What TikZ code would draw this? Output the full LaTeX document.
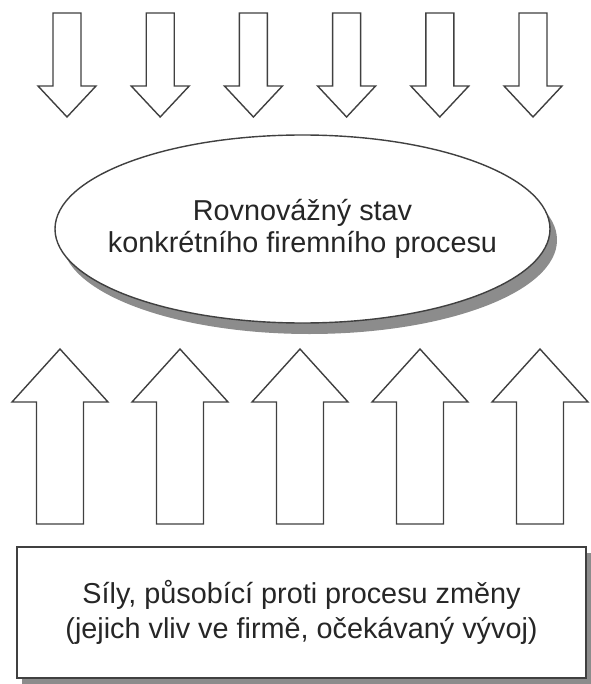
\documentclass[tikz,border=0pt]{standalone}
\usepackage{fontspec}
\setmainfont{Liberation Sans}
\usetikzlibrary{shapes.geometric,shadows}

\begin{document}
\begin{tikzpicture}[x=0.5pt,y=-0.5pt,
	outline/.style={draw=black!75, line width=0.7pt, fill=white, line join=miter},
	stavbox/.style={outline, ellipse, inner xsep=-14pt, inner ysep=0pt, minimum width=247.5pt, minimum height=94pt,
		align=center, text=black!85, font=\fontsize{14.4}{16}\selectfont,
		drop shadow={shadow xshift=3.5pt, shadow yshift=-5.5pt, fill=black!45, opacity=1}},
	silybox/.style={outline, rectangle, inner sep=0pt, minimum width=284.5pt, minimum height=65.5pt,
		align=center, text=black!85, font=\fontsize{14.4}{17.5}\selectfont,
		drop shadow={shadow xshift=2.5pt, shadow yshift=-3pt, fill=black!45, opacity=1}}]
	\useasboundingbox (0,0) rectangle (590,684);
	% arrows from above
	\draw[outline, shift={(67,0)}] (-14,13) -- (14,13) -- (14,86) -- (29,86) -- (0,117) -- (-29,86) -- (-14,86) -- cycle;
	\draw[outline, shift={(160.2,0)}] (-14,13) -- (14,13) -- (14,86) -- (29,86) -- (0,117) -- (-29,86) -- (-14,86) -- cycle;
	\draw[outline, shift={(253.4,0)}] (-14,13) -- (14,13) -- (14,86) -- (29,86) -- (0,117) -- (-29,86) -- (-14,86) -- cycle;
	\draw[outline, shift={(346.6,0)}] (-14,13) -- (14,13) -- (14,86) -- (29,86) -- (0,117) -- (-29,86) -- (-14,86) -- cycle;
	\draw[outline, shift={(439.8,0)}] (-14,13) -- (14,13) -- (14,86) -- (29,86) -- (0,117) -- (-29,86) -- (-14,86) -- cycle;
	\draw[outline, shift={(533,0)}] (-14,13) -- (14,13) -- (14,86) -- (29,86) -- (0,117) -- (-29,86) -- (-14,86) -- cycle;
	% process state
	\node (stav) [stavbox] at (302.5,229) {Rovnovážný stav\\konkrétního firemního procesu};
	% arrows from below
	\draw[outline, shift={(60,0)}] (-23.5,524) -- (23.5,524) -- (23.5,402) -- (48,402) -- (0,349) -- (-48,402) -- (-23.5,402) -- cycle;
	\draw[outline, shift={(180,0)}] (-23.5,524) -- (23.5,524) -- (23.5,402) -- (48,402) -- (0,349) -- (-48,402) -- (-23.5,402) -- cycle;
	\draw[outline, shift={(300,0)}] (-23.5,524) -- (23.5,524) -- (23.5,402) -- (48,402) -- (0,349) -- (-48,402) -- (-23.5,402) -- cycle;
	\draw[outline, shift={(420,0)}] (-23.5,524) -- (23.5,524) -- (23.5,402) -- (48,402) -- (0,349) -- (-48,402) -- (-23.5,402) -- cycle;
	\draw[outline, shift={(540,0)}] (-23.5,524) -- (23.5,524) -- (23.5,402) -- (48,402) -- (0,349) -- (-48,402) -- (-23.5,402) -- cycle;
	% forces against change
	\node (sily) [silybox] at (301.5,612.5) {Síly, působící proti procesu změny\\(jejich vliv ve firmě, očekávaný vývoj)};
\end{tikzpicture}
\end{document}
